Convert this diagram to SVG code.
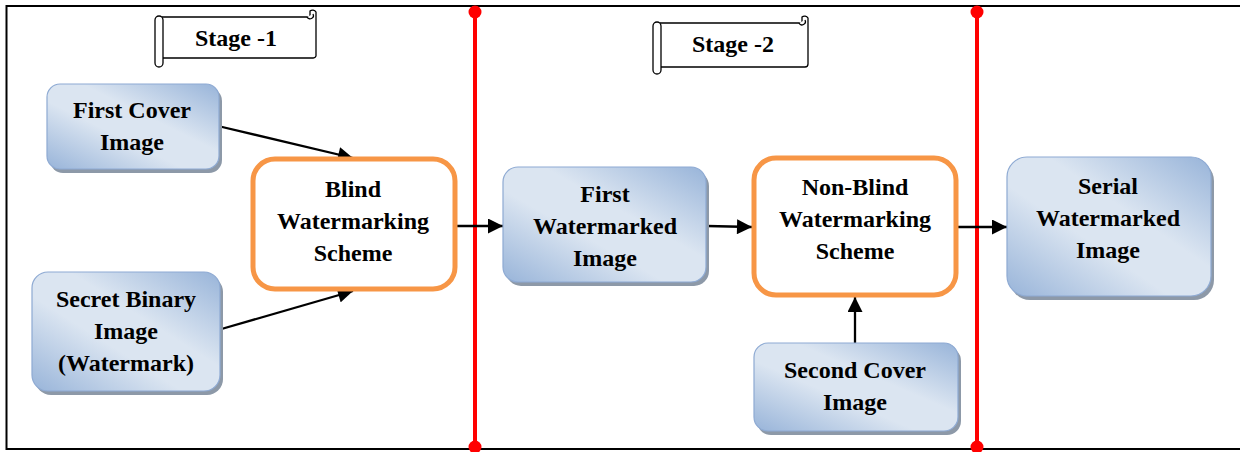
<svg xmlns="http://www.w3.org/2000/svg" width="1240" height="452" viewBox="0 0 1240 452">
  <defs>
    <linearGradient id="blueFill" x1="1" y1="0" x2="0" y2="1">
      <stop offset="0" stop-color="#98b4d9"/>
      <stop offset="0.4" stop-color="#dbe5f1"/>
      <stop offset="0.6" stop-color="#dbe5f1"/>
      <stop offset="1" stop-color="#98b4d9"/>
    </linearGradient>
    <marker id="arrow" viewBox="0 0 10 10" refX="10" refY="5" markerWidth="17" markerHeight="15" markerUnits="userSpaceOnUse" orient="auto">
      <path d="M0,0 L10,5 L0,10 z" fill="#000"/>
    </marker>
    <style>
      .frame { fill: none; stroke: #000; stroke-width: 2; }
      .shadow { fill: #8d99a8; }
      .blue { fill: url(#blueFill); stroke: #8eaad3; stroke-width: 1.2; }
      .scheme { fill: #fff; stroke: #f79646; stroke-width: 5; }
      .lbl { font-family: 'Liberation Serif', 'DejaVu Serif', serif; font-weight: 700; font-size: 24px; text-anchor: middle; fill: #000; }
      .scroll { fill: #fff; stroke: #000; stroke-width: 1.3; }
      .divider { stroke: #ff0000; stroke-width: 4; }
      .dot { fill: #ff0000; }
      .conn { stroke: #000; stroke-width: 2.3; fill: none; marker-end: url(#arrow); }
    </style>
  </defs>

  <!-- outer frame (open on the right) -->
  <path class="frame" d="M1242,6 L6.5,6 L6.5,449 L1242,449"/>

  <!-- stage dividers -->
  <g id="dividers">
    <line class="divider" x1="475" y1="12" x2="475" y2="447"/>
    <circle class="dot" cx="475" cy="12" r="6.5"/>
    <circle class="dot" cx="475" cy="447" r="6.5"/>
    <line class="divider" x1="977" y1="12" x2="977" y2="447"/>
    <circle class="dot" cx="977" cy="12" r="6.5"/>
    <circle class="dot" cx="977" cy="447" r="6.5"/>
  </g>

  <!-- stage banners -->
  <g id="stage1">
    <path class="scroll" d="M162,17 L310,17 L310,11 A4,4 0 0 1 316,12 L316,56 A3,3 0 0 1 313,58 L162,58 Z"/>
    <path class="scroll" d="M155,20 A4,4 0 0 1 163,20 L163,63 A4,4 0 0 1 155,63 Z"/>
    <path class="scroll" d="M307,17 A3,3 0 0 0 313,14"/>
    <text class="lbl" x="236" y="46">Stage -1</text>
  </g>
  <g id="stage2">
    <path class="scroll" d="M660,23 L802,23 L802,17 A4,4 0 0 1 808,18 L808,64 A3,3 0 0 1 805,67 L660,67 Z"/>
    <path class="scroll" d="M653,26 A4,4 0 0 1 661,26 L661,70 A4,4 0 0 1 653,70 Z"/>
    <path class="scroll" d="M799,23 A3,3 0 0 0 805,20"/>
    <text class="lbl" x="733" y="52">Stage -2</text>
  </g>

  <!-- connectors -->
  <g id="connectors">
    <line class="conn" x1="218" y1="126" x2="353" y2="158"/>
    <line class="conn" x1="218" y1="330" x2="353" y2="291"/>
    <line class="conn" x1="456" y1="226" x2="503" y2="226"/>
    <line class="conn" x1="707" y1="226" x2="752" y2="227"/>
    <line class="conn" x1="855" y1="345" x2="855" y2="297"/>
    <line class="conn" x1="958" y1="227" x2="1007" y2="227"/>
  </g>

  <g id="first-cover">
    <rect class="shadow" x="50" y="88" width="172" height="85" rx="13"/>
    <rect class="blue" x="47" y="84" width="172" height="85" rx="13"/>
    <text class="lbl" x="132" y="118">First Cover</text>
    <text class="lbl" x="132" y="150">Image</text>
  </g>

  <g id="secret-binary">
    <rect class="shadow" x="35" y="276" width="188" height="119" rx="16"/>
    <rect class="blue" x="32" y="272" width="188" height="119" rx="16"/>
    <text class="lbl" x="126" y="307">Secret Binary</text>
    <text class="lbl" x="126" y="339">Image</text>
    <text class="lbl" x="126" y="371">(Watermark)</text>
  </g>

  <g id="blind-scheme">
    <rect class="scheme" x="253" y="159" width="202" height="130" rx="22"/>
    <text class="lbl" x="353" y="197">Blind</text>
    <text class="lbl" x="353" y="229">Watermarking</text>
    <text class="lbl" x="353" y="261">Scheme</text>
  </g>

  <g id="first-watermarked">
    <rect class="shadow" x="506" y="171" width="203" height="115" rx="15"/>
    <rect class="blue" x="503" y="167" width="203" height="115" rx="15"/>
    <text class="lbl" x="605" y="202">First</text>
    <text class="lbl" x="605" y="234">Watermarked</text>
    <text class="lbl" x="605" y="266">Image</text>
  </g>

  <g id="nonblind-scheme">
    <rect class="scheme" x="754" y="158" width="202" height="137" rx="22"/>
    <text class="lbl" x="855" y="195">Non-Blind</text>
    <text class="lbl" x="855" y="227">Watermarking</text>
    <text class="lbl" x="855" y="259">Scheme</text>
  </g>

  <g id="second-cover">
    <rect class="shadow" x="757" y="347" width="204" height="88" rx="14"/>
    <rect class="blue" x="754" y="343" width="204" height="88" rx="14"/>
    <text class="lbl" x="855" y="378">Second Cover</text>
    <text class="lbl" x="855" y="410">Image</text>
  </g>

  <g id="serial-watermarked">
    <rect class="shadow" x="1010" y="161" width="204" height="139" rx="20"/>
    <rect class="blue" x="1007" y="157" width="204" height="139" rx="20"/>
    <text class="lbl" x="1108" y="194">Serial</text>
    <text class="lbl" x="1108" y="226">Watermarked</text>
    <text class="lbl" x="1108" y="258">Image</text>
  </g>
</svg>
